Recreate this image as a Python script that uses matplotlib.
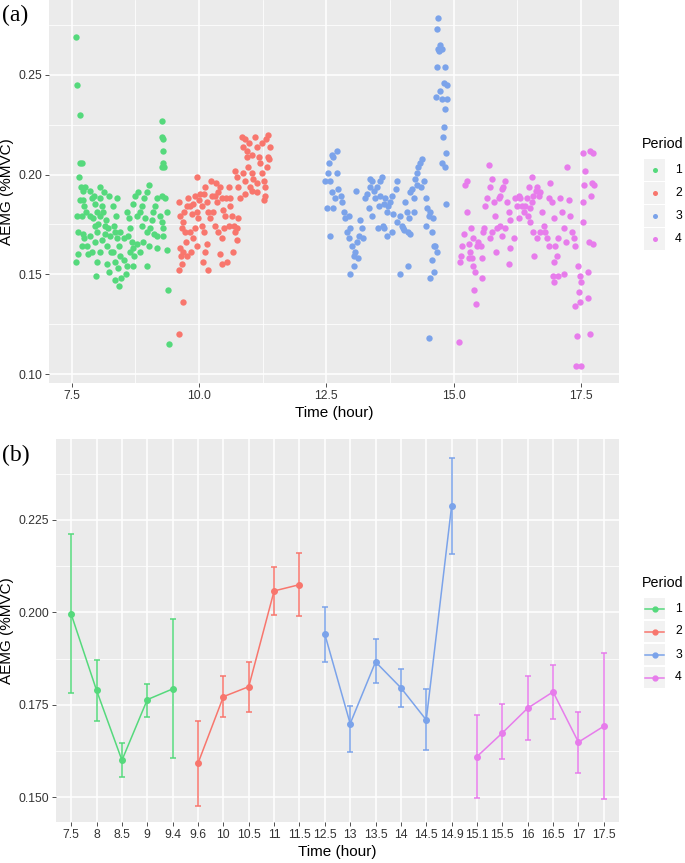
import numpy as np
import matplotlib
matplotlib.use("Agg")
import matplotlib.pyplot as plt
from matplotlib.ticker import FixedLocator, FormatStrFormatter
from matplotlib.patches import Rectangle

plt.rcParams['font.family'] = ['Liberation Sans', 'DejaVu Sans']

periods = ["1", "2", "3", "4"]
period_colors = ["#55D97C", "#F8766D", "#7BA3EA", "#E77CEB"]

# ---- (a) AEMG readings over the day, one pair of lists per period ----
p1_time = [7.58, 7.60, 7.66, 7.66, 7.70, 7.64, 7.60, 7.62, 7.59, 7.62,
           7.68, 7.73, 7.76, 7.66, 7.72, 7.74, 7.70, 7.78, 7.73, 7.70,
           7.74, 7.81, 7.82, 7.86, 7.89, 7.93, 7.96, 7.99, 7.85, 7.91,
           7.95, 8.02, 8.06, 7.99, 7.86, 7.96, 7.90, 8.06, 7.98, 8.00,
           8.06, 8.09, 8.12, 8.17, 8.22, 8.25, 8.15, 8.09, 8.20, 8.27,
           8.19, 8.23, 8.15, 8.06, 8.14, 8.24, 8.35, 8.38, 8.42, 8.32,
           8.45, 8.52, 8.33, 8.37, 8.45, 8.53, 8.36, 8.40, 8.35, 8.42,
           8.46, 8.57, 8.32, 8.38, 8.61, 8.65, 8.68, 8.71, 8.73, 8.78,
           8.59, 8.63, 8.71, 8.74, 8.81, 8.79, 8.65, 8.58, 8.71, 8.84,
           8.88, 8.92, 8.97, 9.01, 8.89, 8.94, 8.97, 9.04, 9.07, 9.10,
           8.91, 9.01, 8.97, 8.84, 9.14, 9.17, 9.24, 9.27, 9.30, 9.17,
           9.30, 9.37, 9.33, 9.28, 9.27, 9.28, 9.29, 9.30, 9.27, 9.31,
           9.30, 9.37, 9.39, 9.41, 9.17, 9.12]
p1_aemg = [0.269, 0.245, 0.230, 0.206, 0.206, 0.199, 0.179, 0.171, 0.156, 0.160,
           0.194, 0.192, 0.194, 0.187, 0.187, 0.184, 0.179, 0.181, 0.170, 0.164,
           0.168, 0.164, 0.160, 0.192, 0.188, 0.189, 0.185, 0.181, 0.179, 0.178,
           0.174, 0.175, 0.194, 0.171, 0.169, 0.166, 0.161, 0.161, 0.149, 0.156,
           0.188, 0.184, 0.181, 0.177, 0.173, 0.169, 0.170, 0.167, 0.164, 0.161,
           0.155, 0.151, 0.174, 0.179, 0.191, 0.189, 0.171, 0.168, 0.164, 0.161,
           0.159, 0.157, 0.174, 0.179, 0.171, 0.168, 0.156, 0.153, 0.147, 0.144,
           0.148, 0.150, 0.184, 0.188, 0.169, 0.173, 0.166, 0.163, 0.159, 0.165,
           0.181, 0.178, 0.185, 0.189, 0.191, 0.179, 0.161, 0.154, 0.154, 0.181,
           0.184, 0.188, 0.191, 0.195, 0.174, 0.178, 0.171, 0.173, 0.177, 0.181,
           0.166, 0.164, 0.154, 0.161, 0.184, 0.188, 0.179, 0.176, 0.173, 0.169,
           0.169, 0.181, 0.188, 0.189, 0.227, 0.219, 0.212, 0.206, 0.204, 0.204,
           0.218, 0.162, 0.142, 0.115, 0.163, 0.170]

p2_time = [9.60, 9.63, 9.66, 9.68, 9.62, 9.64, 9.60, 9.66, 9.69, 9.73,
           9.71, 9.76, 9.60, 9.69, 9.75, 9.79, 9.82, 9.86, 9.89, 9.92,
           9.96, 9.99, 9.82, 9.88, 9.92, 9.96, 9.84, 9.76, 10.01, 9.97,
           10.02, 10.05, 10.09, 10.12, 10.15, 10.18, 10.22, 10.05, 10.10, 10.15,
           10.12, 10.07, 10.17, 10.25, 10.23, 10.28, 10.32, 10.35, 10.38, 10.41,
           10.45, 10.48, 10.51, 10.32, 10.38, 10.45, 10.34, 10.41, 10.49, 10.54,
           10.46, 10.58, 10.61, 10.64, 10.68, 10.71, 10.74, 10.58, 10.77, 10.71,
           10.74, 10.77, 10.61, 10.81, 10.75, 10.56, 10.66, 10.84, 10.87, 10.91,
           10.94, 10.97, 10.86, 10.91, 11.00, 11.04, 11.07, 10.95, 11.05, 10.99,
           10.91, 11.04, 11.10, 11.13, 11.17, 11.20, 11.23, 11.27, 11.30, 11.33,
           11.36, 11.40, 11.35, 11.32, 11.24, 11.13, 11.27, 11.30, 11.13, 11.38]
p2_aemg = [0.186, 0.179, 0.173, 0.176, 0.163, 0.159, 0.152, 0.155, 0.161, 0.171,
           0.181, 0.184, 0.120, 0.136, 0.166, 0.188, 0.184, 0.180, 0.185, 0.189,
           0.181, 0.178, 0.171, 0.168, 0.173, 0.164, 0.161, 0.159, 0.187, 0.199,
           0.190, 0.184, 0.190, 0.194, 0.186, 0.181, 0.178, 0.174, 0.171, 0.165,
           0.161, 0.156, 0.152, 0.189, 0.197, 0.181, 0.189, 0.186, 0.191, 0.194,
           0.188, 0.182, 0.179, 0.174, 0.171, 0.168, 0.196, 0.160, 0.173, 0.188,
           0.155, 0.194, 0.184, 0.179, 0.174, 0.171, 0.173, 0.174, 0.178, 0.202,
           0.199, 0.194, 0.188, 0.188, 0.167, 0.156, 0.161, 0.219, 0.214, 0.218,
           0.209, 0.204, 0.201, 0.197, 0.194, 0.201, 0.198, 0.212, 0.210, 0.216,
           0.190, 0.192, 0.219, 0.214, 0.209, 0.206, 0.201, 0.197, 0.194, 0.204,
           0.209, 0.214, 0.220, 0.218, 0.216, 0.191, 0.187, 0.189, 0.196, 0.208]

p3_time = [12.48, 12.53, 12.55, 12.61, 12.64, 12.71, 12.58, 12.62, 12.68, 12.51,
           12.64, 12.74, 12.78, 12.81, 12.58, 12.71, 12.84, 12.87, 12.91, 12.94,
           12.97, 13.00, 13.04, 13.07, 13.10, 13.14, 13.17, 13.20, 12.96, 13.05,
           13.12, 13.09, 12.94, 13.23, 13.27, 13.30, 13.36, 13.40, 13.43, 13.46,
           13.50, 13.53, 13.56, 13.59, 13.33, 13.40, 13.51, 13.61, 13.36, 13.56,
           13.63, 13.66, 13.69, 13.72, 13.76, 13.79, 13.82, 13.86, 13.89, 13.69,
           13.79, 13.89, 13.95, 13.99, 13.94, 14.01, 13.63, 14.05, 14.08, 14.12,
           14.15, 14.18, 14.22, 14.25, 14.28, 14.31, 14.35, 14.38, 14.03, 14.10,
           14.15, 14.10, 14.22, 14.28, 14.36, 14.41, 14.45, 14.48, 14.51, 14.54,
           14.46, 14.58, 14.61, 14.64, 14.58, 14.61, 14.54, 14.51, 14.60, 14.67,
           14.69, 14.68, 14.74, 14.77, 14.69, 14.71, 14.67, 14.84, 14.81, 14.87,
           14.73, 14.66, 14.77, 14.87, 14.83, 14.81, 14.79, 14.86, 14.77, 14.84,
           14.86]
p3_aemg = [0.197, 0.201, 0.206, 0.210, 0.209, 0.212, 0.197, 0.191, 0.188, 0.183,
           0.183, 0.193, 0.189, 0.186, 0.169, 0.201, 0.181, 0.178, 0.171, 0.168,
           0.173, 0.164, 0.159, 0.161, 0.166, 0.169, 0.177, 0.173, 0.150, 0.154,
           0.158, 0.192, 0.179, 0.168, 0.188, 0.190, 0.194, 0.197, 0.192, 0.188,
           0.194, 0.184, 0.189, 0.199, 0.183, 0.179, 0.173, 0.174, 0.198, 0.197,
           0.185, 0.188, 0.181, 0.184, 0.186, 0.189, 0.180, 0.193, 0.197, 0.169,
           0.171, 0.176, 0.179, 0.174, 0.150, 0.173, 0.173, 0.186, 0.181, 0.178,
           0.191, 0.193, 0.188, 0.198, 0.201, 0.204, 0.206, 0.208, 0.172, 0.171,
           0.170, 0.154, 0.181, 0.195, 0.194, 0.197, 0.188, 0.183, 0.179, 0.181,
           0.174, 0.171, 0.164, 0.164, 0.157, 0.151, 0.148, 0.118, 0.178, 0.161,
           0.2785, 0.273, 0.265, 0.263, 0.263, 0.262, 0.254, 0.254, 0.246, 0.245,
           0.242, 0.239, 0.238, 0.238, 0.233, 0.224, 0.219, 0.211, 0.206, 0.204,
           0.185]

p4_time = [15.10, 15.12, 15.17, 15.20, 15.23, 15.26, 15.15, 15.26, 15.30, 15.33,
           15.36, 15.38, 15.39, 15.41, 15.44, 15.34, 15.46, 15.43, 15.30, 15.49,
           15.53, 15.56, 15.58, 15.59, 15.62, 15.66, 15.69, 15.72, 15.76, 15.79,
           15.82, 15.76, 15.72, 15.56, 15.84, 15.85, 15.89, 15.92, 15.95, 15.98,
           16.02, 16.05, 16.08, 16.11, 15.92, 15.95, 16.02, 16.08, 16.10, 16.18,
           16.21, 16.25, 16.28, 16.31, 16.34, 16.38, 16.41, 16.44, 16.47, 16.51,
           16.54, 16.57, 16.61, 16.64, 16.51, 16.57, 16.64, 16.54, 16.49, 16.28,
           16.67, 16.70, 16.74, 16.77, 16.80, 16.83, 16.87, 16.90, 16.93, 16.97,
           17.00, 17.03, 16.87, 16.97, 16.70, 16.59, 17.06, 17.10, 17.13, 17.16,
           17.20, 17.23, 17.26, 17.29, 17.33, 17.36, 16.96, 16.98, 17.06, 17.16,
           17.39, 17.44, 17.48, 17.50, 17.46, 17.49, 17.39, 17.42, 17.41, 17.50,
           17.54, 17.55, 17.57, 17.58, 17.55, 17.69, 17.73, 17.72, 17.75, 17.70,
           17.67, 17.74, 17.65, 17.65, 17.69]
p4_aemg = [0.116, 0.156, 0.164, 0.170, 0.195, 0.197, 0.159, 0.181, 0.165, 0.161,
           0.158, 0.168, 0.154, 0.142, 0.135, 0.173, 0.164, 0.151, 0.158, 0.166,
           0.164, 0.158, 0.171, 0.173, 0.184, 0.188, 0.205, 0.194, 0.198, 0.186,
           0.179, 0.171, 0.168, 0.148, 0.161, 0.173, 0.188, 0.189, 0.193, 0.194,
           0.197, 0.186, 0.181, 0.177, 0.174, 0.169, 0.173, 0.155, 0.163, 0.168,
           0.188, 0.184, 0.189, 0.188, 0.184, 0.181, 0.184, 0.188, 0.179, 0.183,
           0.186, 0.189, 0.192, 0.194, 0.176, 0.171, 0.168, 0.199, 0.194, 0.178,
           0.189, 0.191, 0.181, 0.174, 0.171, 0.168, 0.188, 0.196, 0.186, 0.178,
           0.164, 0.159, 0.164, 0.156, 0.171, 0.159, 0.168, 0.188, 0.181, 0.173,
           0.166, 0.204, 0.187, 0.179, 0.171, 0.168, 0.149, 0.146, 0.149, 0.150,
           0.164, 0.154, 0.149, 0.146, 0.141, 0.136, 0.134, 0.119, 0.104, 0.104,
           0.186, 0.176, 0.195, 0.202, 0.211, 0.212, 0.211, 0.196, 0.195, 0.189,
           0.166, 0.165, 0.138, 0.151, 0.120]

# ---- (b) mean AEMG per time point, with error bar limits ----
hours = ["7.5", "8", "8.5", "9", "9.4", "9.6", "10", "10.5", "11", "11.5",
         "12.5", "13", "13.5", "14", "14.5", "14.9",
         "15.1", "15.5", "16", "16.5", "17", "17.5"]
hour_period = [1, 1, 1, 1, 1, 2, 2, 2, 2, 2,
               3, 3, 3, 3, 3, 3,
               4, 4, 4, 4, 4, 4]
mean_aemg = [0.1995, 0.1789, 0.1600, 0.1764, 0.1793, 0.1592, 0.1772, 0.1799, 0.2058, 0.2075,
             0.1941, 0.1699, 0.1866, 0.1796, 0.1709, 0.2288,
             0.1610, 0.1674, 0.1741, 0.1785, 0.1649, 0.1692]
upper_aemg = [0.2212, 0.1871, 0.1646, 0.1807, 0.1983, 0.1707, 0.1829, 0.1867, 0.2124, 0.2160,
              0.2014, 0.1747, 0.1928, 0.1846, 0.1793, 0.2418,
              0.1722, 0.1751, 0.1829, 0.1857, 0.1731, 0.1889]
lower_aemg = [0.1781, 0.1707, 0.1556, 0.1717, 0.1605, 0.1476, 0.1717, 0.1731, 0.1994, 0.1990,
              0.1867, 0.1623, 0.1810, 0.1745, 0.1627, 0.2158,
              0.1499, 0.1603, 0.1655, 0.1712, 0.1566, 0.1495]

W, H = 685, 863
PANEL_BG = "#EBEBEB"
TICK_COL = "#333333"


def px_rect(left, top, right, bottom):
    # pixel box -> figure fraction rect
    return [left / W, 1 - bottom / H, (right - left) / W, (bottom - top) / H]


def ggplot_look(ax):
    ax.set_facecolor(PANEL_BG)
    for s in ax.spines.values():
        s.set_visible(False)
    ax.set_axisbelow(True)
    ax.grid(which="major", color="white", linewidth=1.1)
    ax.grid(which="minor", color="white", linewidth=0.55)
    ax.tick_params(which="major", length=2.75, width=0.6, color="#333333",
                   labelsize=8.8, labelcolor=TICK_COL, pad=2.2)
    ax.tick_params(which="minor", length=0)


def draw_legend(fig, rect, kind):
    lax = fig.add_axes(rect)
    lax.set_xlim(0, 1)
    lax.set_ylim(len(periods), 0)
    lax.axis("off")
    for i, (lab, col) in enumerate(zip(periods, period_colors)):
        lax.add_patch(Rectangle((0.03, i + 0.03), 0.94, 0.94, facecolor="#F2F2F2", edgecolor="none"))
        if kind == "point":
            lax.scatter([0.5], [i + 0.5], s=13, color=col, linewidths=0)
        else:
            lax.plot([0.1, 0.9], [i + 0.5, i + 0.5], color=col, lw=1.1)
            lax.plot([0.5], [i + 0.5], "o", color=col, ms=3.5)
        lax.text(1.4, i + 0.5, lab, va="center", ha="left", fontsize=8.8, color="black", clip_on=False)
    # title kept a bit smaller so it fits inside the right edge
    lax.text(-0.05, -0.6, "Period", va="center", ha="left", fontsize=10.3, color="black", clip_on=False)


fig = plt.figure(figsize=(W / 100, H / 100), dpi=100)

# ----- panel (a) -----
ax_a = fig.add_axes(px_rect(49, 0, 619, 383))
ggplot_look(ax_a)
for t, v, col in zip([p1_time, p2_time, p3_time, p4_time],
                     [p1_aemg, p2_aemg, p3_aemg, p4_aemg], period_colors):
    ax_a.scatter(t, v, s=21, color=col, linewidths=0, zorder=3)
ax_a.set_xlim(7.054, 18.25)
ax_a.set_ylim(0.0955, 0.2875)
ax_a.xaxis.set_major_locator(FixedLocator([7.5, 10.0, 12.5, 15.0, 17.5]))
ax_a.xaxis.set_minor_locator(FixedLocator([8.75, 11.25, 13.75, 16.25]))
ax_a.xaxis.set_major_formatter(FormatStrFormatter("%.1f"))
ax_a.yaxis.set_major_locator(FixedLocator([0.10, 0.15, 0.20, 0.25]))
ax_a.yaxis.set_minor_locator(FixedLocator([0.125, 0.175, 0.225, 0.275]))
ax_a.yaxis.set_major_formatter(FormatStrFormatter("%.2f"))
ax_a.set_xlabel("Time (hour)", fontsize=11, labelpad=3)
ax_a.set_ylabel("AEMG (%MVC)", fontsize=11, labelpad=3)
draw_legend(fig, px_rect(643, 158, 666, 251), "point")
fig.text(2 / W, 1 - 15 / H, "(a)", fontsize=17, family="Liberation Serif", va="center", ha="left")

# ----- panel (b) -----
ax_b = fig.add_axes(px_rect(56, 439, 619, 822))
ggplot_look(ax_b)
xpos = np.arange(len(hours))
hp = np.array(hour_period)
mean_arr = np.array(mean_aemg)
up_arr = np.array(upper_aemg)
lo_arr = np.array(lower_aemg)
for k, col in enumerate(period_colors):
    m = hp == k + 1
    ax_b.errorbar(xpos[m], mean_arr[m], yerr=[mean_arr[m] - lo_arr[m], up_arr[m] - mean_arr[m]],
                  color=col, lw=1.1, elinewidth=1.1, capsize=2.2, capthick=1.1,
                  marker="o", ms=4, zorder=3)
ax_b.set_xlim(-0.6, len(hours) - 0.4)
ax_b.set_ylim(0.1433, 0.2469)
ax_b.set_xticks(xpos)
ax_b.set_xticklabels(hours)
ax_b.yaxis.set_major_locator(FixedLocator([0.150, 0.175, 0.200, 0.225]))
ax_b.yaxis.set_minor_locator(FixedLocator([0.1625, 0.1875, 0.2125, 0.2375]))
ax_b.yaxis.set_major_formatter(FormatStrFormatter("%.3f"))
ax_b.set_xlabel("Time (hour)", fontsize=11, labelpad=3)
ax_b.set_ylabel("AEMG (%MVC)", fontsize=11, labelpad=3)
draw_legend(fig, px_rect(643, 597, 666, 689), "line")
fig.text(2 / W, 1 - 455 / H, "(b)", fontsize=17, family="Liberation Serif", va="center", ha="left")

fig.savefig("out.png", dpi=100, facecolor="white")
